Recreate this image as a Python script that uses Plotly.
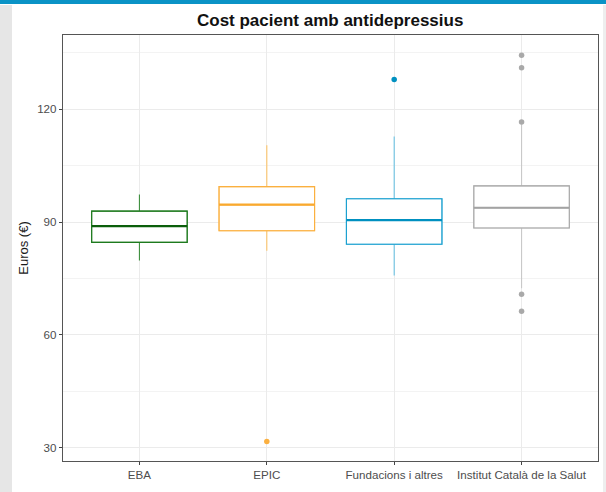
import plotly.graph_objects as go

# Box-plot summaries (euros per patient) by provider type
categories = ["EBA", "EPIC", "Fundacions i altres", "Institut Català de la Salut"]
q1 = [84.6, 87.7, 84.1, 88.4]
median = [88.9, 94.6, 90.5, 93.8]
q3 = [92.9, 99.4, 96.2, 99.6]
lower_whisker = [79.8, 82.4, 75.8, 72.4]
upper_whisker = [97.3, 110.4, 112.7, 116.0]

# Outlying patients per category
outliers = {
    "EBA": [],
    "EPIC": [31.7],
    "Fundacions i altres": [127.9],
    "Institut Català de la Salut": [134.3, 131.0, 116.6, 70.8, 66.3],
}

box_colors = ["#1e7a1e", "#fbb040", "#1aa0cf", "#a9a9a9"]
whisker_colors = ["#3f8f3f", "#fcc46a", "#6cc3e3", "#c9c9c9"]
median_colors = ["#0b5e0b", "#f9a92e", "#0090c0", "#a3a3a3"]
point_colors = ["#1e7a1e", "#fbb040", "#0090c0", "#a9a9a9"]

W, H = 606, 492
ML, MR, MT, MB = 63, 8, 35, 31
BOX_WIDTH = 0.75

fig = go.Figure()
positions = list(range(1, len(categories) + 1))

for i, cat in enumerate(categories):
    x = positions[i]
    # whiskers (lighter stroke)
    fig.add_trace(go.Box(
        x=[x], q1=[q1[i]], median=[median[i]], q3=[q3[i]],
        lowerfence=[lower_whisker[i]], upperfence=[upper_whisker[i]],
        width=BOX_WIDTH, whiskerwidth=0, boxpoints=False,
        line=dict(color=whisker_colors[i], width=1.1),
        fillcolor="rgba(255,255,255,1)", showlegend=False, hoverinfo="skip"))
    # box outline
    fig.add_trace(go.Box(
        x=[x], q1=[q1[i]], median=[median[i]], q3=[q3[i]],
        lowerfence=[q1[i]], upperfence=[q3[i]],
        width=BOX_WIDTH, whiskerwidth=0, boxpoints=False,
        line=dict(color=box_colors[i], width=1.1),
        fillcolor="rgba(255,255,255,0)", showlegend=False, hoverinfo="skip"))
    # heavier median line
    fig.add_trace(go.Scatter(
        x=[x - BOX_WIDTH / 2, x + BOX_WIDTH / 2], y=[median[i], median[i]],
        mode="lines", line=dict(color=median_colors[i], width=2.2),
        showlegend=False, hoverinfo="skip"))
    pts = outliers[cat]
    if pts:
        fig.add_trace(go.Scatter(
            x=[x] * len(pts), y=pts, mode="markers",
            marker=dict(color=point_colors[i], size=5.5),
            showlegend=False, hoverinfo="skip"))


def px_x(p):
    return (p - ML) / (W - ML - MR)


def px_y(p):
    return (H - MB - p) / (H - MT - MB)


shapes = [
    # top accent bar
    dict(type="rect", xref="paper", yref="paper", layer="below",
         x0=px_x(0), x1=px_x(W), y0=px_y(4), y1=px_y(0),
         fillcolor="#0a93c6", line=dict(width=0)),
    # left gray strip
    dict(type="rect", xref="paper", yref="paper", layer="below",
         x0=px_x(0), x1=px_x(12), y0=px_y(H), y1=px_y(5),
         fillcolor="#e6e6e6", line=dict(width=0)),
    # right gray strip
    dict(type="rect", xref="paper", yref="paper", layer="below",
         x0=px_x(603), x1=px_x(W), y0=px_y(H), y1=px_y(5),
         fillcolor="#eeeeee", line=dict(width=0)),
]

grid_major = "#ebebeb"
grid_minor = "#f3f3f3"

fig.update_layout(
    width=W, height=H,
    margin=dict(l=ML, r=MR, t=MT, b=MB, pad=0),
    paper_bgcolor="white", plot_bgcolor="white",
    font=dict(family="Liberation Sans, Arial, sans-serif"),
    title=dict(text="<b>Cost pacient amb antidepressius</b>",
               x=(62.7 + 597.7) / 2 / W, xanchor="center",
               y=1 - 20 / H, yanchor="middle",
               font=dict(size=17, color="#111111")),
    shapes=shapes,
    boxmode="overlay",
)

fig.update_xaxes(
    range=[0.4, 4.6], tickvals=positions, ticktext=categories,
    showgrid=True, gridcolor=grid_major, gridwidth=1,
    zeroline=False, showline=True, mirror=True,
    linecolor="#555555", linewidth=1.3,
    ticks="outside", ticklen=3, tickcolor="#444444", tickwidth=1,
    tickfont=dict(size=11.6, color="#4d4d4d"),
)

fig.update_yaxes(
    range=[26.5, 139.7], tickvals=[30, 60, 90, 120],
    showgrid=True, gridcolor=grid_major, gridwidth=1,
    minor=dict(tickvals=[45, 75, 105, 135], showgrid=True,
               gridcolor=grid_minor, gridwidth=1),
    zeroline=False, showline=True, mirror=True,
    linecolor="#555555", linewidth=1.3,
    ticks="outside", ticklen=3, tickcolor="#444444", tickwidth=1,
    tickfont=dict(size=11.6, color="#4d4d4d"),
    title=dict(text="Euros (€)", standoff=5,
               font=dict(size=13, color="#1a1a1a")),
)

fig.write_html("out.html")
